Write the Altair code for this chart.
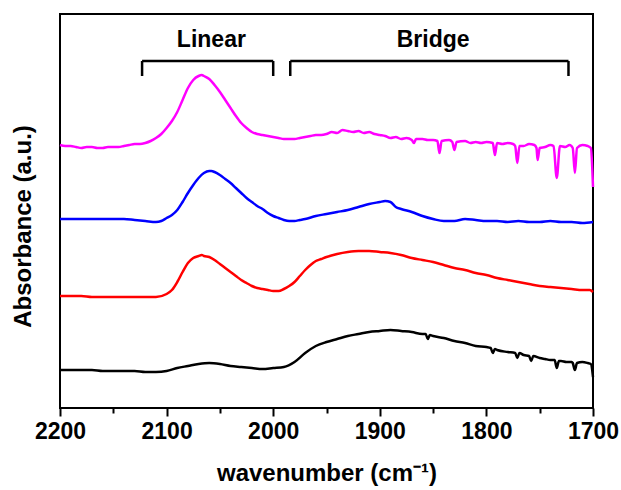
import altair as alt
import pandas as pd

# IR spectra: (wavenumber in cm^-1, offset absorbance in a.u.)
black = [
    (2200, 0.38), (2190, 0.38), (2180, 0.38), (2170, 0.38), (2160, 0.37), (2150, 0.37),
    (2140, 0.37), (2130, 0.37), (2120, 0.36), (2110, 0.36), (2100, 0.37), (2090, 0.40),
    (2080, 0.42), (2070, 0.44), (2060, 0.45), (2050, 0.44), (2040, 0.42), (2030, 0.41),
    (2020, 0.40), (2010, 0.39), (2000, 0.40), (1990, 0.41), (1980, 0.46), (1970, 0.55),
    (1960, 0.62), (1950, 0.66), (1940, 0.69), (1930, 0.72), (1920, 0.74), (1910, 0.76),
    (1900, 0.77), (1890, 0.78), (1880, 0.77), (1870, 0.76), (1860, 0.74), (1857, 0.74),
    (1855, 0.69), (1853, 0.73), (1850, 0.72), (1840, 0.70), (1830, 0.67), (1820, 0.65),
    (1810, 0.62), (1800, 0.61), (1796, 0.60), (1794, 0.55), (1792, 0.59), (1790, 0.58),
    (1780, 0.56), (1773, 0.55), (1771, 0.50), (1769, 0.55), (1765, 0.53), (1760, 0.52),
    (1758, 0.47), (1756, 0.52), (1750, 0.50), (1745, 0.49), (1740, 0.48), (1736, 0.48),
    (1734, 0.40), (1732, 0.47), (1730, 0.47), (1725, 0.46), (1720, 0.46), (1719, 0.45),
    (1717, 0.38), (1715, 0.45), (1710, 0.46), (1705, 0.45), (1702, 0.44), (1700, 0.31),
]

red = [
    (2200, 1.12), (2190, 1.12), (2180, 1.12), (2170, 1.11), (2160, 1.11), (2150, 1.11),
    (2140, 1.11), (2130, 1.11), (2120, 1.11), (2110, 1.11), (2100, 1.14), (2095, 1.18),
    (2090, 1.26), (2085, 1.36), (2080, 1.45), (2075, 1.50), (2070, 1.52), (2067, 1.53),
    (2065, 1.52), (2060, 1.51), (2055, 1.48), (2050, 1.44), (2045, 1.40), (2040, 1.36),
    (2035, 1.32), (2030, 1.28), (2025, 1.25), (2020, 1.22), (2015, 1.20), (2010, 1.19),
    (2005, 1.18), (2000, 1.17), (1995, 1.17), (1990, 1.19), (1985, 1.22), (1980, 1.26),
    (1975, 1.32), (1970, 1.38), (1965, 1.43), (1960, 1.47), (1955, 1.49), (1950, 1.51),
    (1940, 1.54), (1930, 1.56), (1920, 1.57), (1910, 1.57), (1900, 1.56), (1890, 1.55),
    (1880, 1.53), (1870, 1.50), (1860, 1.48), (1850, 1.46), (1840, 1.43), (1830, 1.40),
    (1820, 1.38), (1810, 1.35), (1800, 1.33), (1790, 1.30), (1780, 1.28), (1770, 1.26),
    (1760, 1.24), (1750, 1.22), (1740, 1.21), (1730, 1.20), (1720, 1.19), (1710, 1.18),
    (1703, 1.18), (1700, 1.16),
]

blue = [
    (2200, 1.89), (2190, 1.89), (2180, 1.89), (2170, 1.89), (2160, 1.89), (2150, 1.89),
    (2140, 1.89), (2130, 1.88), (2120, 1.87), (2110, 1.86), (2105, 1.87), (2100, 1.90),
    (2095, 1.93), (2090, 1.98), (2085, 2.06), (2080, 2.15), (2075, 2.23), (2070, 2.30),
    (2065, 2.35), (2060, 2.37), (2058, 2.37), (2055, 2.36), (2050, 2.33), (2045, 2.29),
    (2040, 2.25), (2035, 2.20), (2030, 2.15), (2025, 2.10), (2020, 2.06), (2015, 2.02),
    (2010, 1.99), (2005, 1.95), (2000, 1.92), (1995, 1.90), (1990, 1.88), (1985, 1.87),
    (1980, 1.87), (1975, 1.88), (1970, 1.89), (1960, 1.92), (1950, 1.94), (1940, 1.96),
    (1930, 1.98), (1920, 2.01), (1910, 2.04), (1900, 2.06), (1895, 2.07), (1890, 2.06),
    (1885, 2.01), (1880, 1.99), (1870, 1.96), (1860, 1.92), (1850, 1.89), (1840, 1.87),
    (1830, 1.87), (1820, 1.89), (1810, 1.88), (1800, 1.87), (1790, 1.87), (1780, 1.86),
    (1770, 1.87), (1760, 1.86), (1750, 1.86), (1740, 1.87), (1730, 1.86), (1720, 1.86),
    (1710, 1.85), (1700, 1.86),
]

magenta = [
    (2200, 2.63), (2195, 2.62), (2190, 2.62), (2185, 2.61), (2180, 2.60), (2175, 2.61),
    (2170, 2.61), (2165, 2.60), (2160, 2.60), (2155, 2.61), (2150, 2.61), (2145, 2.61),
    (2140, 2.62), (2135, 2.63), (2130, 2.64), (2125, 2.64), (2120, 2.65), (2115, 2.67),
    (2110, 2.70), (2105, 2.74), (2100, 2.80), (2095, 2.87), (2090, 2.96), (2085, 3.08),
    (2080, 3.20), (2075, 3.28), (2070, 3.32), (2067, 3.33), (2065, 3.32), (2060, 3.29),
    (2055, 3.23), (2050, 3.16), (2045, 3.08), (2040, 3.00), (2035, 2.92), (2030, 2.85),
    (2025, 2.80), (2020, 2.76), (2015, 2.74), (2010, 2.73), (2005, 2.72), (2000, 2.71),
    (1995, 2.70), (1990, 2.69), (1985, 2.69), (1980, 2.69), (1975, 2.70), (1970, 2.71),
    (1965, 2.72), (1960, 2.73), (1955, 2.73), (1950, 2.74), (1945, 2.76), (1940, 2.75),
    (1935, 2.78), (1930, 2.77), (1925, 2.76), (1920, 2.77), (1915, 2.75), (1910, 2.76),
    (1905, 2.74), (1900, 2.73), (1895, 2.72), (1890, 2.70), (1885, 2.71), (1880, 2.69),
    (1875, 2.70), (1870, 2.68), (1868, 2.65), (1866, 2.69), (1860, 2.69), (1855, 2.68),
    (1850, 2.68), (1846, 2.67), (1844, 2.55), (1842, 2.67), (1835, 2.68), (1832, 2.66),
    (1830, 2.58), (1828, 2.66), (1820, 2.67), (1815, 2.65), (1810, 2.66), (1805, 2.65),
    (1800, 2.66), (1794, 2.65), (1792, 2.53), (1790, 2.65), (1785, 2.64), (1780, 2.65),
    (1775, 2.64), (1773, 2.62), (1771, 2.45), (1769, 2.62), (1765, 2.62), (1760, 2.64),
    (1755, 2.63), (1753, 2.60), (1752, 2.48), (1750, 2.60), (1745, 2.61), (1740, 2.63),
    (1737, 2.62), (1734, 2.30), (1731, 2.62), (1726, 2.61), (1722, 2.63), (1719, 2.60),
    (1717, 2.35), (1715, 2.60), (1710, 2.63), (1705, 2.62), (1702, 2.60), (1700, 2.21),
]

series_names = ["black", "red", "blue", "magenta"]
series_colors = ["#000000", "#ff0000", "#0000ff", "#ff00ff"]

# Band regions marked above the spectra
band_labels = ["Linear", "Bridge"]
band_start = [2123, 1984]
band_end = [2000, 1723]
band_label_pos = [2058, 1850]
bracket_top = 3.47
bracket_leg = 3.32
label_level = 3.61

x_ticks = [2200, 2150, 2100, 2050, 2000, 1950, 1900, 1850, 1800, 1750, 1700]

rows = []
for name, pts in zip(series_names, [black, red, blue, magenta]):
    for wn, ab in pts:
        rows.append({"series": name, "wavenumber": wn, "absorbance": ab})
spectra = pd.DataFrame(rows)

bands = pd.DataFrame({
    "band": band_labels,
    "start": band_start,
    "end": band_end,
    "pos": band_label_pos,
    "top": [bracket_top] * 2,
    "leg": [bracket_leg] * 2,
    "lab": [label_level] * 2,
})
legs = pd.DataFrame({
    "x": band_start + band_end,
    "top": [bracket_top] * 4,
    "leg": [bracket_leg] * 4,
})

FONT = "Liberation Sans"

x_enc = alt.X(
    "wavenumber:Q",
    scale=alt.Scale(domain=[1700, 2200], reverse=True, nice=False, zero=False),
    axis=alt.Axis(
        title="wavenumber (cm⁻¹)",
        values=x_ticks,
        format="d",
        labelExpr="datum.value % 100 === 0 ? datum.label : ''",
        tickSize={"condition": {"test": "datum.value % 100 === 0", "value": 8}, "value": 5},
        tickWidth=2,
        tickColor="black",
        domain=False,
        grid=False,
        labelPadding=4,
        titlePadding=18,
        labelFlush=False,
    ),
)
y_scale = alt.Scale(domain=[0, 3.94], nice=False, zero=False)
y_enc = alt.Y(
    "absorbance:Q",
    scale=y_scale,
    axis=alt.Axis(
        title="Absorbance (a.u.)",
        labels=False,
        ticks=False,
        domain=False,
        grid=False,
        titlePadding=25,
        titleY=212,
    ),
)

lines = alt.Chart(spectra).mark_line(strokeWidth=2.5, interpolate="monotone").encode(
    x=x_enc,
    y=y_enc,
    color=alt.Color(
        "series:N",
        scale=alt.Scale(domain=series_names, range=series_colors),
        legend=None,
    ),
    detail="series:N",
)

bracket_bar = alt.Chart(bands).mark_rule(strokeWidth=2.5, color="black").encode(
    x="start:Q", x2="end:Q", y="top:Q"
)
bracket_legs = alt.Chart(legs).mark_rule(strokeWidth=2.5, color="black").encode(
    x="x:Q", y="leg:Q", y2="top:Q"
)
band_text = alt.Chart(bands).mark_text(
    font=FONT, fontSize=23, fontWeight="bold", color="black", baseline="alphabetic"
).encode(x="pos:Q", y="lab:Q", text="band:N")

chart = (
    alt.layer(lines, bracket_bar, bracket_legs, band_text)
    .properties(
        width=533,
        height=394,
        autosize=alt.AutoSizeParams(type="none"),
        padding={"left": 60, "top": 14, "right": 28, "bottom": 82},
    )
    .configure_view(stroke="black", strokeWidth=2)
    .configure_axis(
        labelFont=FONT,
        labelFontSize=23,
        labelFontWeight="bold",
        labelColor="black",
        titleFont=FONT,
        titleFontSize=24,
        titleFontWeight="bold",
        titleColor="black",
    )
)

chart.save("out.html", embed_options={"renderer": "svg", "actions": False})
